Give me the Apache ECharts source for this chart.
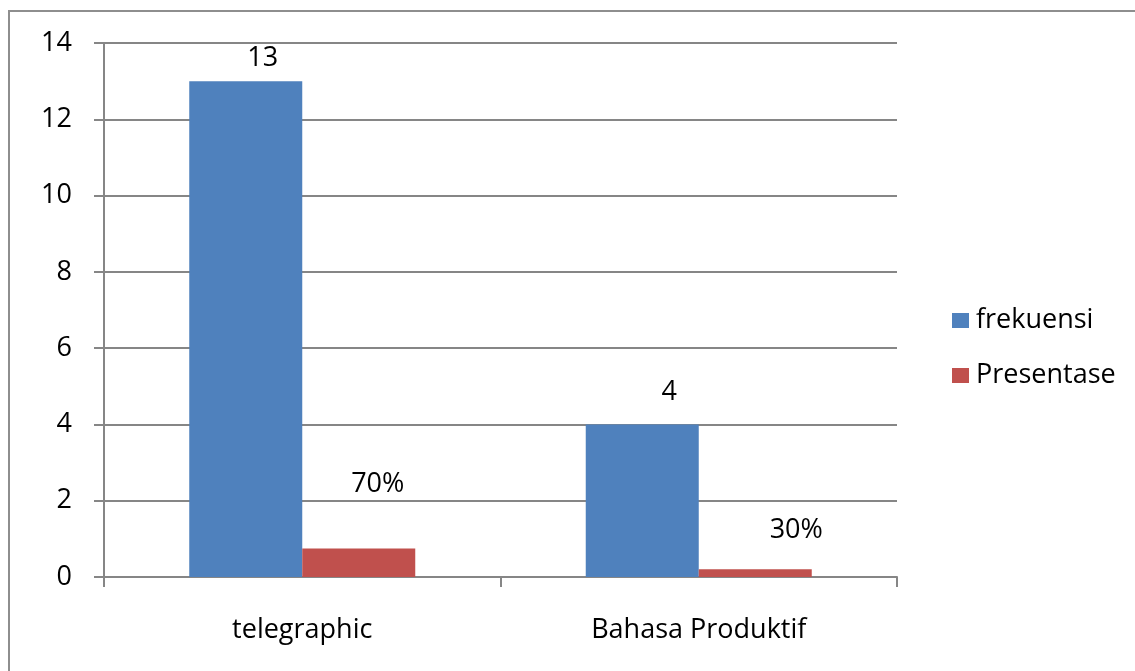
<!DOCTYPE html>
<html>
<head>
<meta charset="utf-8">
<script src="https://cdn.jsdelivr.net/npm/echarts@6/dist/echarts.min.js"></script>
<style>
html,body{margin:0;padding:0;background:#fff;}
#frame{position:absolute;left:8px;top:10px;width:1200px;height:700px;border-left:2px solid #8e8e8e;border-top:2px solid #8e8e8e;}
#chart{position:absolute;left:0;top:0;width:1135px;height:671px;}
</style>
</head>
<body>
<div id="frame"></div>
<div id="chart"></div>
<script>
// data
var categories = ['telegraphic', 'Bahasa Produktif'];
var frekuensi = [13, 4];
var presentase = [0.75, 0.2];
var frekuensiLabels = ['13', '4'];
var presentaseLabels = ['70%', '30%'];
var yTicks = [0, 2, 4, 6, 8, 10, 12, 14];

var font = 'Open Sans';
var gridColor = '#868686';

// label nudges as placed by hand in the original
var frekOffsets = [[17, -3], [27, -12]];
var presOffsets = [[19, -44], [41, -19]];

function withLabels(values, offsets, texts) {
	var out = [];
	for (var i = 0; i < values.length; i++) {
		out.push({
			value: values[i],
			label: { offset: offsets[i], formatter: texts[i] }
		});
	}
	return out;
}

var labelStyle = {
	show: true,
	position: 'top',
	distance: 5,
	fontFamily: font,
	fontSize: 27,
	lineHeight: 30,
	color: '#000'
};

var myChart = echarts.init(document.getElementById('chart'));
myChart.setOption({
	animation: false,
	backgroundColor: 'transparent',
	grid: { left: 104, right: 238, top: 43, bottom: 94 },
	legend: {
		orient: 'vertical',
		left: 947,
		top: 302,
		itemWidth: 17,
		itemHeight: 15,
		itemGap: 28,
		icon: 'rect',
		textStyle: { fontFamily: font, fontSize: 27, color: '#000', padding: [0, 0, 0, 2] },
		data: ['frekuensi', 'Presentase']
	},
	xAxis: {
		type: 'category',
		data: categories,
		axisLine: { lineStyle: { color: gridColor, width: 2 } },
		axisTick: { show: true, length: 10, lineStyle: { color: gridColor, width: 2 } },
		axisLabel: { fontFamily: font, fontSize: 27, color: '#000', margin: 40 }
	},
	yAxis: {
		type: 'value',
		min: yTicks[0],
		max: yTicks[yTicks.length - 1],
		interval: 2,
		axisLine: { show: true, lineStyle: { color: gridColor, width: 2 } },
		axisTick: { show: true, length: 10, lineStyle: { color: gridColor, width: 2 } },
		splitLine: { lineStyle: { color: gridColor, width: 2 } },
		axisLabel: { fontFamily: font, fontSize: 27, color: '#000', margin: 32 }
	},
	series: [
		{
			name: 'frekuensi',
			type: 'bar',
			barGap: '0%',
			barCategoryGap: '43%',
			itemStyle: { color: '#4F81BD' },
			label: labelStyle,
			data: withLabels(frekuensi, frekOffsets, frekuensiLabels)
		},
		{
			name: 'Presentase',
			type: 'bar',
			itemStyle: { color: '#C0504D' },
			label: labelStyle,
			data: withLabels(presentase, presOffsets, presentaseLabels)
		}
	]
});
</script>
</body>
</html>
